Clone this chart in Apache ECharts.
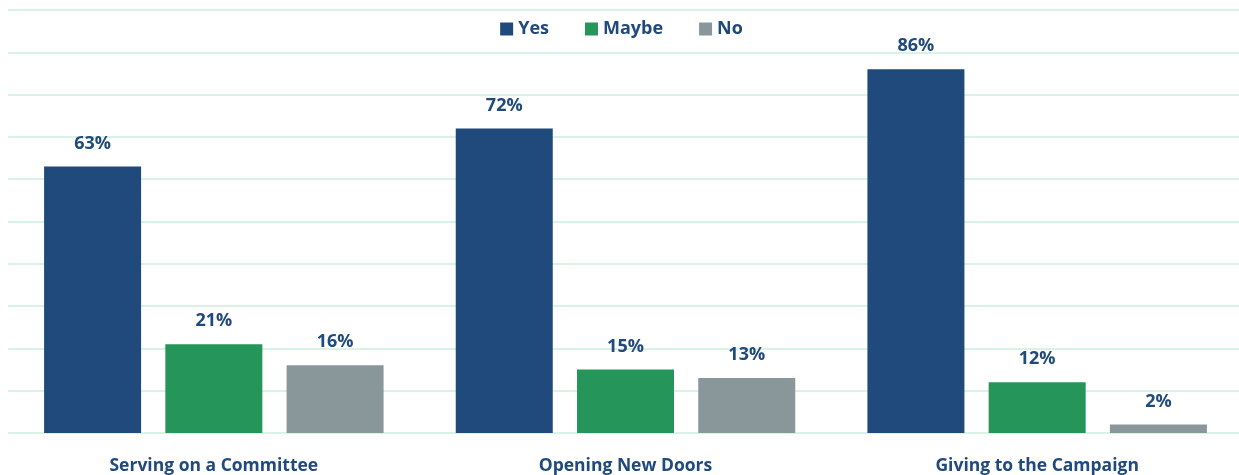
<!DOCTYPE html>
<html>
<head>
<meta charset="utf-8">
<script src="https://cdn.jsdelivr.net/npm/echarts@6/dist/echarts.min.js"></script>
<style>
  html, body { margin: 0; padding: 0; background: #fff; overflow: hidden; }
  #chart { width: 1243px; height: 475px; }
</style>
</head>
<body>
<div id="chart"></div>
<script>
var categories = ['Serving on a Committee', 'Opening New Doors', 'Giving to the Campaign'];
var yesData = [63, 72, 86];
var maybeData = [21, 15, 12];
var noData = [16, 13, 2];

(function () {
    var chart = echarts.init(document.getElementById('chart'));
    var font = '"Open Sans", "Liberation Sans", sans-serif';
    var textColor = '#204a7b';

    function barSeries(name, data, color) {
        return {
            name: name,
            type: 'bar',
            data: data,
            barWidth: 97,
            barGap: '25%',
            itemStyle: { color: color },
            label: {
                show: true,
                position: 'top',
                distance: 14,
                formatter: '{c}%',
                color: textColor,
                fontFamily: font,
                fontWeight: 'bold',
                fontSize: 18
            }
        };
    }

    var option = {
        animation: false,
        legend: {
            top: 15,
            left: 'center',
            itemWidth: 13,
            itemHeight: 13,
            itemGap: 36,
            icon: 'rect',
            textStyle: {
                color: textColor,
                fontFamily: font,
                fontWeight: 'bold',
                fontSize: 18
            },
            data: ['Yes', 'Maybe', 'No']
        },
        grid: {
            left: 8,
            right: 0,
            top: 10,
            bottom: 42
        },
        xAxis: {
            type: 'category',
            data: categories,
            axisLine: { show: false },
            axisTick: { show: false },
            axisLabel: {
                margin: 24,
                color: textColor,
                fontFamily: font,
                fontWeight: 'bold',
                fontSize: 17.5
            }
        },
        yAxis: {
            type: 'value',
            min: 0,
            max: 100,
            interval: 10,
            axisLabel: { show: false },
            axisLine: { show: false },
            axisTick: { show: false },
            splitLine: { lineStyle: { color: '#d9f2e6', width: 2 } }
        },
        series: [
            barSeries('Yes', yesData, '#20497c'),
            barSeries('Maybe', maybeData, '#25955a'),
            barSeries('No', noData, '#89979a')
        ]
    };
    chart.setOption(option);
})();
</script>
</body>
</html>
